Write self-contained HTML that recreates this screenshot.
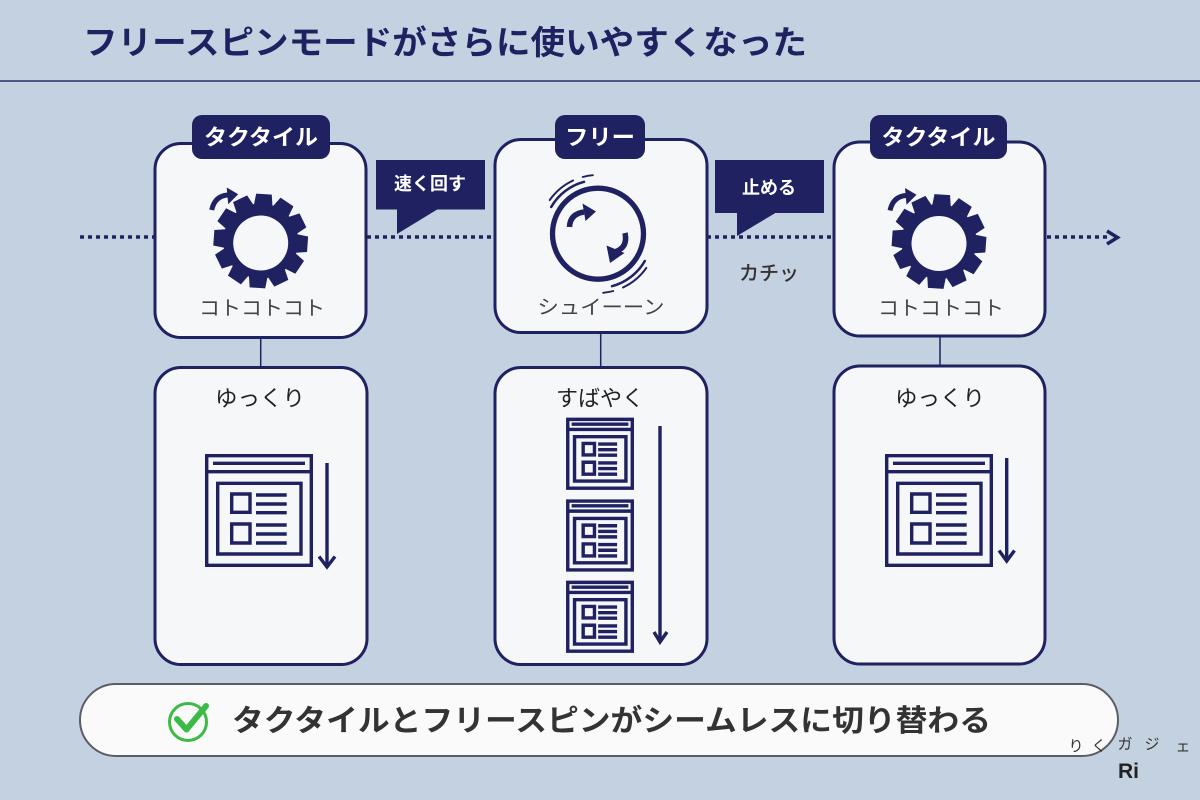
<!DOCTYPE html>
<html><head><meta charset="utf-8"><style>
html,body{margin:0;padding:0;background:#c3d1e1;}
svg{display:block;}
text{font-family:"Liberation Sans","Noto Sans CJK JP",sans-serif;}
</style></head><body>
<svg width="1200" height="800" viewBox="0 0 1200 800" xmlns="http://www.w3.org/2000/svg">
<defs>
<g id="win">
 <rect x="1.7" y="1.7" width="104.6" height="109.6" fill="none" stroke="#1f2161" stroke-width="3.4" vector-effect="non-scaling-stroke"/>
 <line x1="8" y1="9.3" x2="100" y2="9.3" stroke="#1f2161" stroke-width="3.4" vector-effect="non-scaling-stroke"/>
 <line x1="0" y1="17.7" x2="108" y2="17.7" stroke="#1f2161" stroke-width="3.4" vector-effect="non-scaling-stroke"/>
 <rect x="12.7" y="29.3" width="83.3" height="70.7" fill="none" stroke="#1f2161" stroke-width="3.4" vector-effect="non-scaling-stroke"/>
 <rect x="26.7" y="40" width="18.3" height="18.3" fill="none" stroke="#1f2161" stroke-width="3.4" vector-effect="non-scaling-stroke"/>
 <rect x="26.7" y="70" width="18.3" height="19" fill="none" stroke="#1f2161" stroke-width="3.4" vector-effect="non-scaling-stroke"/>
 <g stroke="#1f2161" stroke-width="3.4" vector-effect="non-scaling-stroke">
  <line x1="51" y1="41" x2="81.7" y2="41" vector-effect="non-scaling-stroke"/>
  <line x1="51" y1="50" x2="81.7" y2="50" vector-effect="non-scaling-stroke"/>
  <line x1="51" y1="58.7" x2="81.7" y2="58.7" vector-effect="non-scaling-stroke"/>
  <line x1="51" y1="71" x2="81.7" y2="71" vector-effect="non-scaling-stroke"/>
  <line x1="51" y1="80" x2="81.7" y2="80" vector-effect="non-scaling-stroke"/>
  <line x1="51" y1="89" x2="81.7" y2="89" vector-effect="non-scaling-stroke"/>
 </g>
</g>
<g id="gear">
 <g transform="rotate(4)" fill="#1f2161">
  <circle r="37.5"/>
  <polygon points="-9.5,-34 9.5,-34 7.8,-47 -7.8,-47"/>
  <polygon points="-9.5,-34 9.5,-34 7.8,-47 -7.8,-47" transform="rotate(30)"/>
  <polygon points="-9.5,-34 9.5,-34 7.8,-47 -7.8,-47" transform="rotate(60)"/>
  <polygon points="-9.5,-34 9.5,-34 7.8,-47 -7.8,-47" transform="rotate(90)"/>
  <polygon points="-9.5,-34 9.5,-34 7.8,-47 -7.8,-47" transform="rotate(120)"/>
  <polygon points="-9.5,-34 9.5,-34 7.8,-47 -7.8,-47" transform="rotate(150)"/>
  <polygon points="-9.5,-34 9.5,-34 7.8,-47 -7.8,-47" transform="rotate(180)"/>
  <polygon points="-9.5,-34 9.5,-34 7.8,-47 -7.8,-47" transform="rotate(210)"/>
  <polygon points="-9.5,-34 9.5,-34 7.8,-47 -7.8,-47" transform="rotate(240)"/>
  <polygon points="-9.5,-34 9.5,-34 7.8,-47 -7.8,-47" transform="rotate(270)"/>
  <polygon points="-9.5,-34 9.5,-34 7.8,-47 -7.8,-47" transform="rotate(300)"/>
  <polygon points="-9.5,-34 9.5,-34 7.8,-47 -7.8,-47" transform="rotate(330)"/>
 </g>
 <circle cx="0" cy="2" r="27.5" fill="#f6f7f9"/>
 <path d="M -49 -31 Q -46 -45 -33 -46" fill="none" stroke="#1f2161" stroke-width="5"/>
 <polygon points="-34,-53.5 -22.5,-46.7 -32.5,-36.7" fill="#1f2161"/>
</g>
</defs>

<!-- header -->
<text x="83" y="54" font-size="33" font-weight="700" fill="#1f2161" textLength="724" lengthAdjust="spacingAndGlyphs">フリースピンモードがさらに使いやすくなった</text>
<line x1="0" y1="81" x2="1200" y2="81" stroke="#2a2e6b" stroke-width="1.5"/>

<!-- dotted timeline -->
<g stroke="#1f2161" stroke-width="3.5" stroke-dasharray="4 4" fill="none">
 <line x1="80" y1="237" x2="156" y2="237"/>
 <line x1="367" y1="237" x2="495" y2="237"/>
 <line x1="707" y1="237" x2="834" y2="237"/>
 <line x1="1047" y1="237" x2="1108" y2="237"/>
</g>
<polyline points="1107,231 1117.5,237.5 1107,244" fill="none" stroke="#1f2161" stroke-width="3.5"/>

<!-- callouts -->
<rect x="376" y="160" width="109" height="49.5" fill="#1f2161"/>
<polygon points="397,209 397,234 438,209" fill="#1f2161"/>
<text x="430" y="190" font-size="18" font-weight="700" fill="#ffffff" text-anchor="middle">速く回す</text>

<rect x="715" y="160" width="109" height="53" fill="#1f2161"/>
<polygon points="737,212 737,236 777,212" fill="#1f2161"/>
<text x="769" y="194" font-size="18" font-weight="700" fill="#ffffff" text-anchor="middle">止める</text>

<text x="769" y="280" font-size="20" font-weight="500" fill="#333333" text-anchor="middle">カチッ</text>

<!-- card 1 top -->
<rect x="155" y="143.5" width="211" height="194" rx="26" fill="#f6f7f9" stroke="#1f2161" stroke-width="3"/>
<rect x="192" y="115" width="138" height="44" rx="10" fill="#1f2161"/>
<text x="261" y="145" font-size="22" font-weight="700" fill="#ffffff" text-anchor="middle" textLength="114" lengthAdjust="spacingAndGlyphs">タクタイル</text>
<use href="#gear" transform="translate(260.7,241)"/>
<text x="262" y="315" font-size="20" fill="#444444" text-anchor="middle" textLength="126" lengthAdjust="spacingAndGlyphs">コトコトコト</text>

<!-- card 2 top -->
<rect x="495" y="139.5" width="212" height="193" rx="26" fill="#f6f7f9" stroke="#1f2161" stroke-width="3"/>
<rect x="555" y="115" width="90" height="44" rx="10" fill="#1f2161"/>
<text x="600" y="145" font-size="22" font-weight="700" fill="#ffffff" text-anchor="middle" textLength="70" lengthAdjust="spacingAndGlyphs">フリー</text>
<g fill="none" stroke="#1f2161">
 <circle cx="598" cy="233.7" r="45.5" stroke-width="5.3"/>
 <path d="M551.2 207 A54 54 0 0 1 584 181.8" stroke-width="2.5" stroke-linecap="round"/>
 <path d="M549.7 200.1 A59 59 0 0 1 573.1 180.5" stroke-width="2" stroke-linecap="round"/>
 <path d="M582.7 177 A59 59 0 0 1 592.9 175.2" stroke-width="1.8" stroke-linecap="round"/>
 <path d="M644.8 261 A54 54 0 0 1 612 286.2" stroke-width="2.5" stroke-linecap="round"/>
 <path d="M646.3 267.9 A59 59 0 0 1 623 287.5" stroke-width="2" stroke-linecap="round"/>
 <path d="M613.3 291 A59 59 0 0 1 603.1 292.8" stroke-width="1.8" stroke-linecap="round"/>
 <path d="M569.5 227 Q 570 214 584 212" stroke-width="5.5"/>
 <path d="M625 233 Q 628 247 616 251.5" stroke-width="5.5"/>
</g>
<polygon points="582.5,203.5 596,211.5 585.5,221" fill="#1f2161"/>
<polygon points="606.5,245.5 624.5,253 610,263" fill="#1f2161"/>
<text x="601" y="314" font-size="20" fill="#444444" text-anchor="middle" textLength="127" lengthAdjust="spacingAndGlyphs">シュイーーン</text>

<!-- card 3 top -->
<rect x="834" y="142" width="211" height="194" rx="26" fill="#f6f7f9" stroke="#1f2161" stroke-width="3"/>
<rect x="870" y="115" width="137" height="44" rx="10" fill="#1f2161"/>
<text x="938.5" y="145" font-size="22" font-weight="700" fill="#ffffff" text-anchor="middle" textLength="114" lengthAdjust="spacingAndGlyphs">タクタイル</text>
<use href="#gear" transform="translate(939,241.5)"/>
<text x="941" y="315" font-size="20" fill="#444444" text-anchor="middle" textLength="126" lengthAdjust="spacingAndGlyphs">コトコトコト</text>

<!-- connectors -->
<g stroke="#1f2161" stroke-width="1.5">
 <line x1="260.7" y1="338" x2="260.7" y2="367"/>
 <line x1="600.7" y1="333" x2="600.7" y2="367"/>
 <line x1="940" y1="336" x2="940" y2="366"/>
</g>

<!-- bottom card 1 -->
<rect x="155" y="367.5" width="212" height="297" rx="26" fill="#f6f7f9" stroke="#1f2161" stroke-width="3"/>
<text x="260" y="406" font-size="22" fill="#222222" text-anchor="middle" textLength="90" lengthAdjust="spacingAndGlyphs">ゆっくり</text>
<use href="#win" transform="translate(205,454)"/>
<line x1="327" y1="463" x2="327" y2="567" stroke="#1f2161" stroke-width="3.4"/>
<polyline points="319,556.5 327,567 335,556.5" fill="none" stroke="#1f2161" stroke-width="3.4"/>

<!-- bottom card 2 -->
<rect x="495" y="367.5" width="212" height="297" rx="26" fill="#f6f7f9" stroke="#1f2161" stroke-width="3"/>
<text x="600" y="406" font-size="22" fill="#222222" text-anchor="middle" textLength="88" lengthAdjust="spacingAndGlyphs">すばやく</text>
<use href="#win" transform="translate(566.7,418.3) scale(0.617,0.628)"/>
<use href="#win" transform="translate(566.7,500) scale(0.617,0.628)"/>
<use href="#win" transform="translate(566.7,581.3) scale(0.617,0.628)"/>
<line x1="660" y1="426" x2="660" y2="642" stroke="#1f2161" stroke-width="3.4"/>
<polyline points="654,632 660,642 667,632" fill="none" stroke="#1f2161" stroke-width="3.4"/>

<!-- bottom card 3 -->
<rect x="834" y="366" width="211" height="298" rx="26" fill="#f6f7f9" stroke="#1f2161" stroke-width="3"/>
<text x="940" y="406" font-size="22" fill="#222222" text-anchor="middle" textLength="90" lengthAdjust="spacingAndGlyphs">ゆっくり</text>
<use href="#win" transform="translate(885,454)"/>
<line x1="1006.7" y1="458" x2="1006.7" y2="561" stroke="#1f2161" stroke-width="3.4"/>
<polyline points="999,550.5 1006.7,561 1014.5,550.5" fill="none" stroke="#1f2161" stroke-width="3.4"/>

<!-- banner -->
<rect x="80" y="684" width="1038" height="72" rx="36" fill="#fafafa" stroke="#5a5d66" stroke-width="2"/>
<circle cx="188" cy="722" r="18.5" fill="none" stroke="#3dba45" stroke-width="3"/>
<polyline points="177,719 186.5,729.5 206,706" fill="none" stroke="#3dba45" stroke-width="6" stroke-linecap="round" stroke-linejoin="round"/>
<text x="232" y="731" font-size="30" font-weight="700" fill="#333333" textLength="759" lengthAdjust="spacingAndGlyphs">タクタイルとフリースピンがシームレスに切り替わる</text>

<!-- logo -->
<g font-size="15" fill="#333333" text-anchor="middle">
 <text x="1076" y="751">り</text>
 <text x="1099" y="751">く</text>
 <text x="1125" y="749">ガ</text>
 <text x="1152" y="749">ジ</text>
 <text x="1183" y="751">ェ</text>
</g>
<text x="1118" y="778" font-size="21" font-weight="700" fill="#222222">Ri</text>
</svg>
</body></html>
